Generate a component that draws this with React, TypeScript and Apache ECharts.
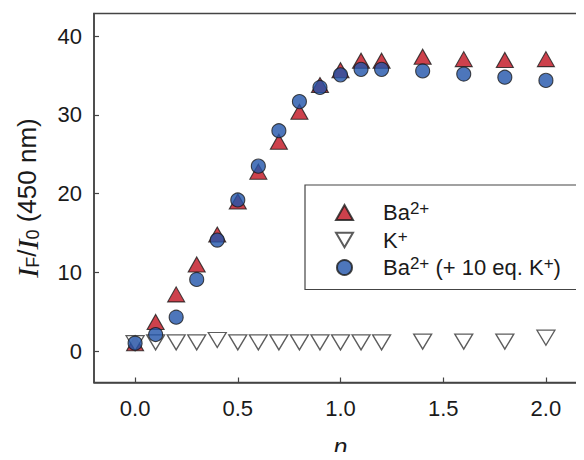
import React, { useEffect, useRef } from "react";
import * as echarts from "echarts";

const xValues = [0, 0.1, 0.2, 0.3, 0.4, 0.5, 0.6, 0.7, 0.8, 0.9, 1.0, 1.1, 1.2, 1.4, 1.6, 1.8, 2.0];
const baValues = [1.0, 3.7, 7.2, 11.0, 14.8, 19.0, 22.8, 26.6, 30.4, 33.8, 35.7, 36.9, 36.9, 37.4, 37.1, 37.0, 37.1];
const kValues = [1.0, 1.1, 1.1, 1.1, 1.4, 1.1, 1.1, 1.1, 1.1, 1.1, 1.1, 1.1, 1.1, 1.2, 1.2, 1.2, 1.7];
const baKValues = [1.0, 2.1, 4.3, 9.1, 14.1, 19.2, 23.5, 28.0, 31.7, 33.5, 35.1, 35.8, 35.8, 35.6, 35.2, 34.8, 34.4];

const xTicks = [0, 0.5, 1.0, 1.5, 2.0];
const yTicks = [0, 10, 20, 30, 40];

const seriesNames = ["Ba2+", "K+", "Ba2+ (+ 10 eq. K+)"];
const legendLabels: Record<string, string> = {
  "Ba2+": "{g| }{t|Ba}{s|2+}",
  "K+": "{g| }{t|K}{s|+}",
  "Ba2+ (+ 10 eq. K+)": "{g| }{t|Ba}{s|2+}{t| (+ 10 eq. K}{s|+}{t|)}",
};

const FONT = "Liberation Sans, Arial, sans-serif";
const INK = "#1a1a1a";

export default function App() {
  const ref = useRef<HTMLDivElement>(null);
  useEffect(() => {
    if (!ref.current) return;
    const chart = echarts.init(ref.current, null, { renderer: "svg" });
    const pair = (ys: number[]) => xValues.map((x, i) => [x, ys[i]]);
    chart.setOption({
      animation: false,
      backgroundColor: "#ffffff",
      grid: {
        left: 94,
        top: 13.5,
        right: -3,
        bottom: 77.5,
        containLabel: false,
        outerBoundsMode: "none",
        show: true,
        borderColor: "#444",
        borderWidth: 1.5,
      },
      xAxis: {
        type: "value",
        min: -0.2,
        max: 2.2,
        name: "n",
        nameLocation: "middle",
        nameGap: 51,
        nameTextStyle: { fontFamily: FONT, fontStyle: "italic", fontSize: 25, color: INK, lineHeight: 26 },
        axisLine: { show: true, onZero: false, lineStyle: { color: "#444", width: 1.5 } },
        axisTick: { show: true, inside: true, length: 5, customValues: xTicks, lineStyle: { color: "#444", width: 1.2 } },
        axisLabel: {
          customValues: xTicks,
          formatter: (v: number) => v.toFixed(1),
          fontFamily: FONT,
          fontSize: 22,
          color: INK,
          margin: 15,
        },
        splitLine: { show: false },
      },
      yAxis: {
        type: "value",
        min: -4,
        max: 42.9,
        name: "{i|I}{sub|F}{t|/}{i|I}{sub|0}{t| (450 nm)}",
        nameLocation: "middle",
        nameRotate: 90,
        nameGap: 52,
        nameTextStyle: {
          fontFamily: FONT,
          fontSize: 26,
          color: INK,
          rich: {
            i: { fontFamily: "Liberation Serif, serif", fontStyle: "italic", fontSize: 30, color: INK },
            sub: { fontFamily: FONT, fontSize: 18, color: INK, verticalAlign: "top", padding: [12, 0, 0, 0] },
            t: { fontFamily: FONT, fontSize: 26, color: INK },
          },
        },
        axisLine: { show: true, onZero: false, lineStyle: { color: "#444", width: 1.5 } },
        axisTick: { show: true, inside: true, length: 5, customValues: yTicks, lineStyle: { color: "#444", width: 1.2 } },
        axisLabel: {
          customValues: yTicks,
          fontFamily: FONT,
          fontSize: 22,
          color: INK,
          margin: 12,
        },
        splitLine: { show: false },
      },
      legend: {
        orient: "vertical",
        left: 305,
        top: 185,
        padding: [15, 16, 11, 30],
        itemWidth: 17,
        itemHeight: 15,
        itemGap: 4,
        borderColor: "#444",
        borderWidth: 1.2,
        data: seriesNames,
        formatter: (name: string) => legendLabels[name] || name,
        textStyle: {
          fontFamily: FONT,
          fontSize: 22,
          color: INK,
          rich: {
            g: { width: 25, fontSize: 22 },
            t: { fontFamily: FONT, fontSize: 22, color: INK },
            s: { fontFamily: FONT, fontSize: 17, color: INK, verticalAlign: "bottom", padding: [0, 0, 8, 0] },
          },
        },
      },
      series: [
        {
          name: seriesNames[0],
          type: "scatter",
          symbol: "triangle",
          symbolSize: [17, 15],
          itemStyle: { color: "#c0111f", borderColor: INK, borderWidth: 1.1 },
          data: pair(baValues),
        },
        {
          name: seriesNames[1],
          type: "scatter",
          symbol: "path://M0,0 L20,0 L10,17.3 Z",
          symbolSize: [18, 15],
          itemStyle: { color: "#ffffff", borderColor: "#333", borderWidth: 1.3 },
          data: pair(kValues),
        },
        {
          name: seriesNames[2],
          type: "scatter",
          symbol: "circle",
          symbolSize: 14,
          itemStyle: { color: "#2154aa", borderColor: INK, borderWidth: 1.1 },
          data: pair(baKValues),
        },
      ],
    });
    return () => chart.dispose();
  }, []);
  return <div ref={ref} style={{ width: 584, height: 460, margin: -8 }} />;
}
